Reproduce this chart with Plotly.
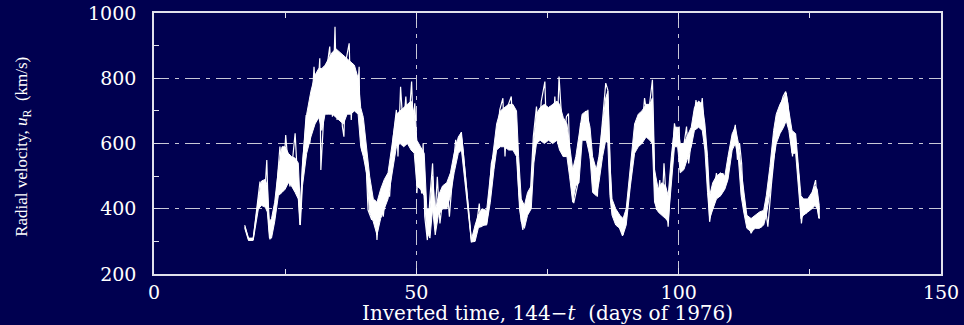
import plotly.graph_objects as go

# Solar wind radial velocity (days, km/s)
# spikes: the extreme excursions of the noisy trace
day = [17.3, 18.1, 18.9, 19.7, 20.2, 21.0, 21.5, 21.8, 22.1, 23.0, 24.0, 24.6, 25.1, 25.9,
       26.9, 27.5, 27.8, 28.3, 29.0, 29.7, 30.5, 31.0, 31.6, 31.8, 32.1, 32.8, 33.5, 34.0,
       34.5, 34.9, 35.4, 35.9, 36.2, 36.6, 37.2, 37.6, 38.1, 38.6, 39.1, 39.2, 39.6, 40.2,
       40.5, 40.8, 41.5, 42.1, 42.5, 43.0, 43.7, 44.3, 44.9, 45.6, 46.2, 46.5, 47.0, 47.5,
       48.0, 48.4, 49.1, 49.4, 49.7, 50.0, 50.1, 50.6, 51.0, 51.3, 51.6, 52.1, 52.6, 53.1,
       53.5, 54.0, 54.5, 55.1, 55.8, 56.3, 57.0, 57.5, 58.0, 58.5, 58.9, 60.5, 61.1, 61.8,
       62.0, 62.3, 63.4, 63.7, 64.3, 65.3, 65.9, 66.5, 66.9, 67.4, 68.1, 68.5, 69.0, 69.3,
       69.7, 70.3, 70.7, 71.2, 71.7, 72.3, 72.9, 73.4, 73.8, 74.5, 74.8, 75.4, 75.9, 76.4,
       76.8, 77.2, 77.6, 78.0, 78.6, 79.0, 79.3, 80.0, 80.8, 81.3, 82.0, 82.7, 83.1, 84.0,
       84.5, 84.9, 85.6, 86.1, 86.5, 86.9, 87.2, 87.8, 88.4, 89.3, 90.0, 91.0, 91.6, 92.3,
       92.9, 93.5, 94.1, 95.0, 95.2, 95.5, 95.8, 96.4, 96.8, 97.2, 97.6, 98.0, 98.4, 98.9,
       99.2, 99.6, 100.1, 100.3, 100.8, 101.5, 101.9, 102.6, 103.3, 103.9, 104.5, 104.9,
       105.3, 105.6, 105.9, 106.5, 107.2, 107.8, 108.4, 109.1, 109.7, 110.3, 110.8, 111.2,
       111.6, 112.0, 112.3, 112.9, 113.8, 114.8, 115.7, 116.6, 117.0, 117.7, 118.3, 118.7,
       119.2, 119.9, 120.4, 120.8, 121.1, 121.7, 122.1, 122.5, 122.9, 123.4, 123.8, 124.3,
       125.0, 125.6, 126.1, 126.4, 126.7]
u_r = [345, 304, 306, 406, 483, 417, 549, 376, 306, 376, 591, 478, 626, 468,
       631, 447, 350, 529, 687, 601, 835, 703, 861, 519, 621, 815, 897, 682,
       958, 672, 866, 652, 621, 856, 907, 672, 835, 700, 835, 703, 580, 560,
       509, 396, 366, 427, 304, 437, 376, 478, 437, 621, 703, 560, 774, 641,
       744, 621, 790, 652, 723, 631, 448, 580, 447, 601, 376, 304, 437, 539,
       355, 498, 355, 437, 478, 376, 519, 611, 580, 633, 580, 299, 304, 396,
       416, 345, 355, 396, 539, 601, 703, 739, 560, 713, 744, 580, 672, 529,
       396, 335, 396, 437, 437, 621, 713, 621, 728, 790, 631, 713, 601, 744,
       611, 805, 703, 560, 682, 692, 519, 417, 478, 662, 641, 703, 560, 498,
       437, 560, 703, 785, 764, 519, 406, 386, 355, 317, 376, 519, 591, 682,
       621, 739, 672, 795, 662, 437, 396, 488, 386, 539, 437, 345, 468, 601,
       662, 621, 652, 519, 580, 652, 539, 631, 733, 672, 739, 631,
       580, 478, 360, 427, 509, 437, 509, 478, 560, 621, 657, 550,
       601, 539, 437, 376, 325, 355, 345, 396, 345, 478, 580, 641,
       703, 744, 759, 723, 672, 560, 631, 560, 498, 355, 417, 386,
       417, 458, 488, 417, 371]

# dense core of the trace: lower and upper edge of the solid white band
band_day = [17.3, 18.0, 18.9, 19.3, 19.9, 20.5, 21.2, 21.6, 22.0, 22.4, 23.0, 23.7, 24.4,
            25.0, 25.6, 26.2, 26.9, 27.5, 27.9, 28.3, 29.1, 29.9, 30.7, 31.4, 32.0, 32.6,
            33.3, 34.0, 34.7, 35.4, 36.1, 36.8, 37.5, 38.2, 38.9, 39.4, 39.9, 40.5, 41.1,
            41.8, 42.5, 43.2, 43.9, 44.6, 45.4, 46.2, 46.9, 47.6, 48.3, 49.0, 49.6, 50.1,
            50.8, 51.5, 52.0, 52.6, 53.1, 53.6, 54.2, 55.0, 55.8, 56.5, 57.2, 58.0, 58.6,
            60.5, 61.2, 61.8, 62.5, 63.4, 64.1, 64.8, 65.3, 66.0, 66.8, 67.6, 68.4, 69.1,
            69.5, 70.0, 70.6, 71.2, 71.9, 72.4, 72.9, 73.6, 74.4, 75.2, 76.0, 76.8, 77.3,
            78.0, 78.7, 79.2, 79.8, 80.4, 81.0, 81.6, 82.4, 83.1, 83.6, 84.3, 84.8, 85.5,
            86.1, 86.5, 86.9, 87.3, 88.0, 88.8, 89.4, 90.0, 90.8, 91.6, 92.3, 93.0, 93.8,
            94.5, 95.0, 95.4, 96.1, 96.8, 97.5, 98.0, 98.6, 99.2, 99.8, 100.3, 101.0, 101.6,
            102.4, 103.0, 103.8, 104.5, 105.0, 105.5, 105.9, 106.5, 107.2, 108.0, 108.8,
            109.4, 110.2, 110.8, 111.4, 111.9, 112.4, 113.0, 113.8, 114.6, 115.4, 116.2,
            116.7, 117.4, 118.1, 118.6, 119.3, 120.0, 120.5, 121.0, 121.6, 122.3, 122.8,
            123.3, 123.8, 124.6, 125.4, 126.0, 126.4, 126.8]
band_lo = [340, 303, 303, 335, 400, 410, 405, 390, 310, 310, 360, 440, 450,
           460, 480, 470, 450, 430, 350, 470, 570, 620, 660, 680, 640, 690,
           690, 690, 680, 670, 660, 690, 690, 700, 690, 590, 560, 510, 390,
           360, 320, 370, 400, 430, 510, 590, 600, 590, 600, 580, 570, 470,
           460, 440, 330, 310, 400, 320, 380, 400, 400, 440, 510, 570, 580,
           298, 300, 340, 350, 350, 420, 520, 580, 590, 590, 580, 580, 560,
           450, 360, 340, 380, 400, 540, 600, 610, 600, 610, 600, 610, 580,
           560, 560, 500, 420, 470, 480, 610, 610, 560, 450, 440, 480, 560,
           610, 600, 440, 380, 350, 340, 320, 350, 470, 570, 590, 600, 620,
           610, 600, 420, 390, 380, 370, 360, 480, 590, 590, 510, 520, 550,
           590, 640, 650, 640, 580, 450, 370, 400, 430, 440, 460,
           490, 580, 600, 550, 440, 390, 340, 330, 340, 340, 350,
           380, 450, 550, 600, 630, 650, 670, 640, 570, 570, 460,
           370, 380, 390, 400, 410, 400, 370]
band_hi = [350, 310, 310, 360, 430, 485, 490, 470, 360, 370, 420, 520, 590,
           590, 570, 560, 555, 540, 400, 540, 690, 760, 810, 830, 830, 840,
           860, 880, 890, 880, 870, 860, 850, 840, 800, 710, 680, 580, 500,
           430, 420, 460, 490, 510, 600, 690, 700, 710, 720, 730, 690, 610,
           590, 570, 400, 400, 500, 390, 440, 470, 480, 510, 570, 620, 635,
           305, 350, 380, 400, 395, 500, 600, 660, 700, 710, 720, 720, 700,
           560, 430, 410, 450, 470, 610, 690, 710, 720, 710, 720, 730, 720,
           680, 660, 600, 520, 560, 620, 690, 700, 650, 560, 520, 560, 660,
           740, 760, 540, 430, 400, 380, 370, 400, 540, 660, 690, 700, 720,
           720, 740, 520, 460, 480, 470, 440, 560, 650, 650, 600, 600, 620,
           650, 710, 730, 720, 660, 560, 440, 480, 500, 510, 500,
           560, 630, 650, 600, 520, 460, 380, 370, 380, 390, 395,
           440, 530, 640, 690, 720, 740, 755, 700, 640, 630, 540,
           440, 430, 430, 450, 470, 460, 410]

x_ticks = [0, 50, 100, 150]
y_ticks = [200, 400, 600, 800, 1000]
x_title = "Inverted time, 144\u2212<i>t</i>\u00a0 (days of 1976)"
y_title = "Radial velocity, <i>u</i><sub>R</sub>\u00a0 (km/s)"

BG = "rgb(0,0,80)"
AX = "rgb(225,225,235)"
GRID = "rgb(200,200,215)"
DASH = "15px,6px,4px,6px"
tick_font = dict(family="DejaVu Serif", size=19, color="white")

fig = go.Figure()
fig.add_trace(go.Scatter(x=band_day + band_day[::-1], y=band_hi + band_lo[::-1],
                         mode="lines", fill="toself", fillcolor="white",
                         line=dict(color="white", width=1),
                         showlegend=False, hoverinfo="skip"))
fig.add_trace(go.Scatter(x=day, y=u_r, mode="lines",
                         line=dict(color="white", width=1.2),
                         showlegend=False, hoverinfo="skip"))

fig.update_layout(
    width=964, height=325,
    margin=dict(l=154, r=23, t=13, b=51),
    paper_bgcolor=BG, plot_bgcolor=BG,
    xaxis=dict(range=[0, 150], tickvals=x_ticks, ticktext=[str(v) for v in x_ticks],
               ticks="inside", ticklen=6, tickcolor=AX, tickwidth=1.2,
               showline=True, linecolor=AX, linewidth=1.6, mirror="ticks",
               showgrid=True, gridcolor=GRID, gridwidth=1.2, griddash=DASH,
               zeroline=False, tickfont=tick_font, automargin=False,
               minor=dict(dtick=25, tick0=0, ticks="inside", ticklen=5,
                          tickcolor=AX, tickwidth=1.2, showgrid=False)),
    yaxis=dict(range=[200, 1000], tickvals=y_ticks, ticktext=[str(v) for v in y_ticks],
               ticks="inside", ticklen=6, tickcolor=AX, tickwidth=1.2,
               showline=True, linecolor=AX, linewidth=1.6, mirror=True,
               showgrid=True, gridcolor=GRID, gridwidth=1.2, griddash=DASH,
               zeroline=False, tickfont=tick_font, ticklabelstandoff=12,
               automargin=False,
               minor=dict(dtick=100, tick0=200, ticks="inside", ticklen=5,
                          tickcolor=AX, tickwidth=1.2, showgrid=False)),
    annotations=[
        dict(text=x_title, xref="paper", yref="paper", x=0.5006, y=-0.149,
             xanchor="center", yanchor="middle", showarrow=False,
             font=dict(family="DejaVu Serif", size=20, color="white")),
        dict(text=y_title, xref="paper", yref="paper", x=-0.1665, y=0.487,
             xanchor="center", yanchor="middle", showarrow=False, textangle=-90,
             font=dict(family="Liberation Serif", size=17, color="white")),
    ],
)

fig.write_html("out.html", config={"displayModeBar": False},
               post_script="document.body.style.margin='0';"
                           "document.body.style.background='rgb(0,0,80)';"
                           "document.body.style.overflow='hidden';")
